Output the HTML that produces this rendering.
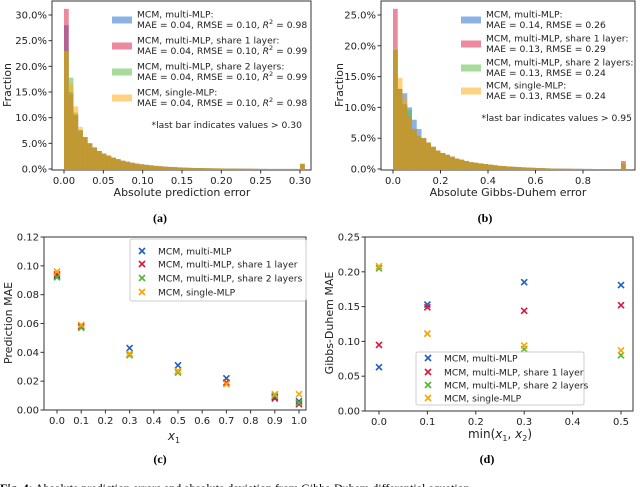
<!DOCTYPE html>
<html><head><meta charset="utf-8"><style>
html,body{margin:0;padding:0;background:#fff;}
svg{display:block;font-family:"DejaVu Sans","Liberation Sans",sans-serif;}
</style></head><body>
<svg id="fig" width="640" height="487" viewBox="0 0 640 487" xmlns="http://www.w3.org/2000/svg">
<text x="0" y="492" font-family="Liberation Serif, serif" font-size="12" fill="#000"><tspan font-weight="bold">Fig. 4:</tspan> Absolute prediction errors and absolute deviation from Gibbs-Duhem differential equation</text>
</svg>
<script>
// ---------- data ----------
const seriesNames = ["MCM, multi-MLP","MCM, multi-MLP, share 1 layer","MCM, multi-MLP, share 2 layers","MCM, single-MLP"];
const histColors = ["#1a66cc","#dc143c","#52b738","#ffa500"];
const markColors = ["#1f5fbf","#dc143c","#52b738","#ffa500"];
// panel a histogram (% per bin, bin width 0.006)
const tailA = [6.2,5.0,4.2,3.5,3.0,2.6,2.2,1.9,1.6,1.4,1.2,1.05,0.9,0.8,0.7,0.6,0.52,0.45,0.4,0.35,0.3,0.26,0.22,0.2,0.18,0.16,0.14,0.12,0.11,0.1,0.09,0.08,0.07,0.06,0.05,0.04,0.03,0.02,0.02,0.01,0.01,0.01,0.01,0.01,0.01,0.01];
const headA_blue = [28.0,15.0,10.5,7.6];
const headA_red = [31.2,14.5,10.6,7.4];
const headA_green = [23.0,17.8,11.0,7.6];
const headA_orange = [23.0,16.5,12.2,8.2];
const lastA = [1.0,1.0,1.0,1.0];
// panel b histogram (% per bin, bin width 0.02)
const tailB = [5.0,4.3,3.6,3.0,2.6,2.3,2.0,1.7,1.5,1.3,1.1,1.0,0.9,0.8,0.7,0.6,0.5,0.45,0.4,0.35,0.3,0.26,0.22,0.19,0.16,0.13,0.1,0.08,0.06,0.05,0.04,0.03,0.02,0.02,0.01,0.01,0,0,0,0,0,0];
const headB_blue = [19.3,13.0,12.3,10.0,8.0,6.5];
const headB_red = [26.0,13.0,10.5,8.5,6.5,5.3];
const headB_green = [19.3,13.0,10.5,9.6,6.5,5.3];
const headB_orange = [19.3,14.8,11.5,8.5,6.5,5.3];
const lastB = [0.9,1.3,0.9,0.9];
// panel c
const xC = [0,0.1,0.3,0.5,0.7,0.9,1.0];
const cBlue = [0.093,0.058,0.043,0.031,0.022,0.009,0.006];
const cRed = [0.094,0.058,0.039,0.027,0.019,0.008,0.004];
const cGreen = [0.092,0.057,0.038,0.026,0.018,0.010,0.005];
const cOrange = [0.096,0.059,0.039,0.027,0.018,0.011,0.011];
const ticksCx = ["0.0","0.1","0.2","0.3","0.4","0.5","0.6","0.7","0.8","0.9","1.0"];
const ticksCy = ["0.00","0.02","0.04","0.06","0.08","0.10","0.12"];
// panel d
const xD = [0,0.1,0.3,0.5];
const dBlue = [0.063,0.153,0.185,0.181];
const dRed = [0.095,0.149,0.144,0.152];
const dGreen = [0.205,0.111,0.089,0.080];
const dOrange = [0.208,0.111,0.094,0.087];
const ticksDx = ["0.0","0.1","0.2","0.3","0.4","0.5"];
const ticksDy = ["0.00","0.05","0.10","0.15","0.20","0.25"];
const ticksAx = ["0.00","0.05","0.10","0.15","0.20","0.25","0.30"];
const ticksAy = ["0.0%","5.0%","10.0%","15.0%","20.0%","25.0%","30.0%"];
const ticksBx = ["0.0","0.2","0.4","0.6","0.8"];
const ticksBy = ["0.0%","5.0%","10.0%","15.0%","20.0%","25.0%"];
const legA = ["MAE = 0.04, RMSE = 0.10, R2 = 0.98","MAE = 0.04, RMSE = 0.10, R2 = 0.99","MAE = 0.04, RMSE = 0.10, R2 = 0.99","MAE = 0.04, RMSE = 0.10, R2 = 0.98"];
const legB = ["MAE = 0.14, RMSE = 0.26","MAE = 0.13, RMSE = 0.29","MAE = 0.13, RMSE = 0.24","MAE = 0.13, RMSE = 0.24"];

const NS="http://www.w3.org/2000/svg";
const svg=document.getElementById('fig');
const LF=9.2;
function el(tag,attrs,parent,text){const e=document.createElementNS(NS,tag);for(const k in attrs)e.setAttribute(k,attrs[k]);if(text!==undefined)e.textContent=text;(parent||svg).appendChild(e);return e;}
function lin(d0,d1,r0,r1){return v=>r0+(v-d0)*(r1-r0)/(d1-d0);}

function axesBox(x0,y0,x1,y1,name){
  const r=el('rect',{x:x0,y:y0,width:x1-x0,height:y1-y0,fill:'none',stroke:'#333','stroke-width':1});
  
  
}
function xTicks(labels,vals,sx,yb,name){
  const g=el('g',{});
  
  
  labels.forEach((l,i)=>{const x=sx(vals[i]);el('line',{x1:x,x2:x,y1:yb,y2:yb+3.5,stroke:'#333'},g);el('text',{x:x,y:yb+14,'font-size':10,'text-anchor':'middle',fill:'#222'},g,l);});
}
function yTicks(labels,vals,sy,xl,name){
  const g=el('g',{});
  
  
  labels.forEach((l,i)=>{const y=sy(vals[i]);el('line',{x1:xl-3.5,x2:xl,y1:y,y2:y,stroke:'#333'},g);el('text',{x:xl-5,y:y+3.5,'font-size':10,'text-anchor':'end',fill:'#222'},g,l);});
}
function label(x,y,t,rot,name,size){
  const e=el('text',{x:x,y:y,'font-size':size||11,'text-anchor':'middle',fill:'#222',transform:rot?`rotate(-90 ${x} ${y})`:''},svg,t);
  
  
  return e;
}
function sub(x,y,t,name){
  const e=el('text',{x:x,y:y,'font-size':12,'text-anchor':'middle','font-family':'Liberation Serif, serif','font-weight':'bold',fill:'#000'},svg,t);
  
  
}
function hist(heads,tail,last,bw,lastX,sx,sy,name){
  const g=el('g',{});
  
  
  heads.forEach((h,s)=>{
    const vals=h.concat(tail);
    vals.forEach((v,i)=>{if(v<=0)return;const x0=sx(i*bw),x1=sx((i+1)*bw),y=sy(v);
      const r=el('rect',{x:x0,y:y,width:x1-x0,height:sy(0)-y,fill:histColors[s],'fill-opacity':0.5},g);
      
      });
    const x0=sx(lastX),x1=sx(lastX+bw),y=sy(last[s]);
    const r=el('rect',{x:x0,y:y,width:x1-x0,height:sy(0)-y,fill:histColors[s],'fill-opacity':0.5},g);
    
    
  });
}
function xmark(x,y,c,g){const s=3;el('path',{d:`M${x-s},${y-s}L${x+s},${y+s}M${x-s},${y+s}L${x+s},${y-s}`,stroke:c,'stroke-width':1.6},g);}
function scatter(xs,series,sx,sy,name){
  series.forEach((ys,s)=>{const g=el('g',{});
    
    
    ys.forEach((v,i)=>xmark(sx(xs[i]),sy(v),markColors[s],g));});
}
function histLegend(x,tx,rows,lines,name,r2){
  const g=el('g',{});
  
  
  rows.forEach((ry,i)=>{
    el('rect',{x:x,y:ry-3.5,width:20,height:7,fill:histColors[i],'fill-opacity':0.5},g);
    el('text',{x:tx,y:ry-2.5,'font-size':LF,fill:'#222'},g,seriesNames[i]+':');
    const t=el('text',{x:tx,y:ry+8,'font-size':LF,fill:'#222'},g);
    if(r2){const parts=lines[i].split('R2');t.appendChild(document.createTextNode(parts[0]));
      el('tspan',{'font-style':'italic'},t,'R');el('tspan',{dy:-4,'font-size':6.5},t,'2');el('tspan',{dy:4},t,parts[1]);}
    else t.textContent=lines[i];
  });
}
function scatLegend(x0,y0,w,h,rows,name){
  const g=el('g',{});
  
  
  el('rect',{x:x0,y:y0,width:w,height:h,rx:2,fill:'#fff','fill-opacity':0.85,stroke:'#ccc'},g);
  rows.forEach((ry,i)=>{xmark(x0+12,ry,markColors[i],g);el('text',{x:x0+28,y:ry+3.3,'font-size':LF,fill:'#222'},g,seriesNames[i]);});
}

// ---------- panel a ----------
{const sx=lin(0,0.30,64,300),sy=lin(0,30,169,15);
hist([headA_blue,headA_red,headA_green,headA_orange],tailA,lastA,0.006,0.300,sx,sy,'hist-a');
axesBox(52,1,311,170,'axes-a');
xTicks(ticksAx,[0,0.05,0.1,0.15,0.2,0.25,0.3],sx,170,'x-ticks-a');
yTicks(ticksAy,[0,5,10,15,20,25,30],sy,52,'y-ticks-a');
histLegend(112,137,[20,46,72,98],legA,'legend-a',true);
const n=el('text',{x:302,y:128,'font-size':LF,'text-anchor':'end',fill:'#222'},svg,'*last bar indicates values > 0.30');

label(182,196,'Absolute prediction error',false,'x-axis-title-a');
label(11,85,'Fraction',true,'y-axis-title-a');
sub(160,222,'(a)','subcaption-a');}

// ---------- panel b ----------
{const sx=lin(0,0.8,393,583),sy=lin(0,25,169,15);
hist([headB_blue,headB_red,headB_green,headB_orange],tailB,lastB,0.02,0.96,sx,sy,'hist-b');
axesBox(381,1,635,170,'axes-b');
xTicks(ticksBx,[0,0.2,0.4,0.6,0.8],sx,170,'x-ticks-b');
yTicks(ticksBy,[0,5,10,15,20,25],sy,381,'y-ticks-b');
histLegend(461,486,[20,44,68,91],legB,'legend-b',false);
const n=el('text',{x:632,y:121,'font-size':LF,'text-anchor':'end',fill:'#222'},svg,'*last bar indicates values > 0.95');

label(508,196,'Absolute Gibbs-Duhem error',false,'x-axis-title-b');
label(343,85,'Fraction',true,'y-axis-title-b');
sub(485,222,'(b)','subcaption-b');}

// ---------- panel c ----------
{const sx=lin(0,1,57,299),sy=lin(0,0.12,410,237);
axesBox(44,237,306,410,'axes-c');
xTicks(ticksCx,ticksCx.map(Number),sx,410,'x-ticks-c');
yTicks(ticksCy,ticksCy.map(Number),sy,44,'y-ticks-c');
scatter(xC,[cBlue,cRed,cGreen,cOrange],sx,sy,'series-c');
scatLegend(130,239,176,62,[251,264,278,292],'legend-c');
const t=label(174,440,'',false,'x-axis-title-c',12);
el('tspan',{'font-style':'italic'},t,'x');el('tspan',{'font-size':8,dy:3},t,'1');
label(12,323,'Prediction MAE',true,'y-axis-title-c');
sub(160,463,'(c)','subcaption-c');}

// ---------- panel d ----------
{const sx=lin(0,0.5,379,621),sy=lin(0,0.25,411,237);
axesBox(365,237,633,411,'axes-d');
xTicks(ticksDx,ticksDx.map(Number),sx,411,'x-ticks-d');
yTicks(ticksDy,ticksDy.map(Number),sy,365,'y-ticks-d');
scatter(xD,[dBlue,dRed,dGreen,dOrange],sx,sy,'series-d');
scatLegend(416,352,168,53,[358,372,385,398],'legend-d');
const t=label(500,438,'',false,'x-axis-title-d',12);
t.appendChild(document.createTextNode('min('));
el('tspan',{'font-style':'italic'},t,'x');el('tspan',{'font-size':8,dy:3},t,'1');
el('tspan',{dy:-3},t,', ');el('tspan',{'font-style':'italic'},t,'x');el('tspan',{'font-size':8,dy:3},t,'2');el('tspan',{dy:-3},t,')');
label(333,323,'Gibbs-Duhem MAE',true,'y-axis-title-d');
sub(487,463,'(d)','subcaption-d');}
</script>
</body></html>
